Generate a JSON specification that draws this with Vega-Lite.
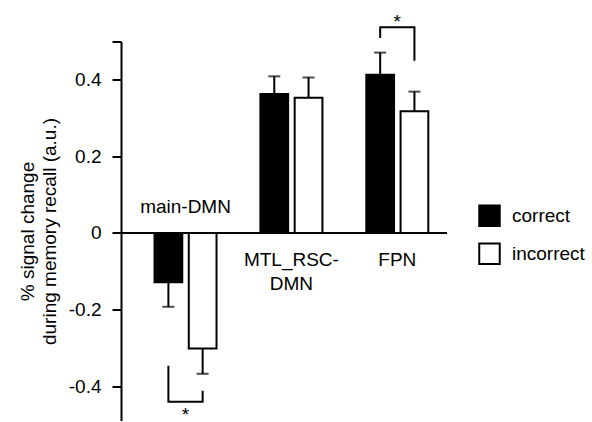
{
  "$schema": "https://vega.github.io/schema/vega-lite/v6.json",
  "autosize": "none",
  "width": 326,
  "height": 379,
  "padding": {"left": 121, "top": 41.5, "right": 145, "bottom": 1.5},
  "background": "white",
  "config": {
    "font": "Liberation Sans",
    "view": {"stroke": null},
    "axis": {"grid": false}
  },
  "datasets": {
    "bars": [
      {"group": "main-DMN", "cond": "correct", "value": -0.129, "hi": -0.193},
      {"group": "main-DMN", "cond": "incorrect", "value": -0.302, "hi": -0.368},
      {"group": "MTL_RSC-DMN", "cond": "correct", "value": 0.363, "hi": 0.409},
      {"group": "MTL_RSC-DMN", "cond": "incorrect", "value": 0.353, "hi": 0.406},
      {"group": "FPN", "cond": "correct", "value": 0.413, "hi": 0.471},
      {"group": "FPN", "cond": "incorrect", "value": 0.318, "hi": 0.369}
    ],
    "labels": [
      {"group": "main-DMN", "label": "main-DMN"},
      {"group": "MTL_RSC-DMN", "label": "MTL_RSC-\nDMN"},
      {"group": "FPN", "label": "FPN"}
    ],
    "brackets": [
      {"group": "main-DMN", "cond": "correct", "y": -0.347, "ord": 1},
      {"group": "main-DMN", "cond": "correct", "y": -0.441, "ord": 2},
      {"group": "main-DMN", "cond": "incorrect", "y": -0.441, "ord": 3},
      {"group": "main-DMN", "cond": "incorrect", "y": -0.412, "ord": 4},
      {"group": "FPN", "cond": "correct", "y": 0.509, "ord": 1},
      {"group": "FPN", "cond": "correct", "y": 0.5375, "ord": 2},
      {"group": "FPN", "cond": "incorrect", "y": 0.5375, "ord": 3},
      {"group": "FPN", "cond": "incorrect", "y": 0.45, "ord": 4}
    ],
    "stars": [
      {"group": "main-DMN", "y": -0.492, "text": "*"},
      {"group": "FPN", "y": 0.536, "text": "*"}
    ]
  },
  "layer": [
    {
      "data": {"name": "bars"},
      "mark": {"type": "bar", "stroke": "black", "strokeWidth": 2},
      "encoding": {
        "x": {"field": "group", "type": "nominal", "sort": ["main-DMN", "MTL_RSC-DMN", "FPN"], "axis": null,
              "scale": {"paddingInner": 0.4145, "paddingOuter": 0.2465, "align": 0.642}},
        "xOffset": {"field": "cond", "type": "nominal", "sort": ["correct", "incorrect"],
                    "scale": {"paddingInner": 0.19, "paddingOuter": 0}},
        "y": {"field": "value", "type": "quantitative",
              "scale": {"domain": [-0.49, 0.5], "nice": false, "zero": false},
              "axis": {
                "title": ["% signal change", "during memory recall (a.u.)"],
                "titleFontSize": 19, "titleFontWeight": "normal", "titleColor": "black",
                "titleLineHeight": 22, "titlePadding": 9,
                "values": [-0.4, -0.2, 0, 0.2, 0.4, 0.5],
                "labelExpr": "datum.value == 0.5 ? '' : (datum.value == 0 ? '0' : replace(format(datum.value, '.1f'), '\u2212', '-'))",
                "labelFontSize": 19, "labelColor": "black", "labelPadding": 11,
                "domainColor": "black", "domainWidth": 2,
                "tickColor": "black", "tickWidth": 2, "tickSize": 9
              }},
        "color": {"field": "cond", "type": "nominal",
                  "scale": {"domain": ["correct", "incorrect"], "range": ["#000000", "#ffffff"]},
                  "legend": {"title": null, "orient": "none", "legendX": 357, "legendY": 162.8,
                             "padding": 0, "symbolType": "square", "symbolSize": 420,
                             "symbolStrokeColor": "black", "symbolStrokeWidth": 2, "symbolOpacity": 1,
                             "labelFontSize": 19, "labelColor": "black", "labelOffset": 11,
                             "rowPadding": 9}}
      }
    },
    {
      "data": {"name": "bars"},
      "mark": {"type": "rule", "color": "black", "strokeWidth": 2},
      "encoding": {
        "x": {"field": "group", "type": "nominal", "sort": ["main-DMN", "MTL_RSC-DMN", "FPN"]},
        "xOffset": {"field": "cond", "type": "nominal", "sort": ["correct", "incorrect"]},
        "y": {"field": "value", "type": "quantitative"},
        "y2": {"field": "hi"}
      }
    },
    {
      "data": {"name": "bars"},
      "mark": {"type": "tick", "color": "black", "orient": "horizontal", "size": 12, "thickness": 2},
      "encoding": {
        "x": {"field": "group", "type": "nominal", "sort": ["main-DMN", "MTL_RSC-DMN", "FPN"]},
        "xOffset": {"field": "cond", "type": "nominal", "sort": ["correct", "incorrect"]},
        "y": {"field": "hi", "type": "quantitative"}
      }
    },
    {
      "data": {"values": [{"v": 0}]},
      "mark": {"type": "rule", "color": "black", "strokeWidth": 2},
      "encoding": {"y": {"field": "v", "type": "quantitative"}}
    },
    {
      "data": {"name": "brackets"},
      "mark": {"type": "line", "color": "black", "strokeWidth": 2, "strokeJoin": "miter", "strokeCap": "butt"},
      "encoding": {
        "x": {"field": "group", "type": "nominal", "sort": ["main-DMN", "MTL_RSC-DMN", "FPN"]},
        "xOffset": {"field": "cond", "type": "nominal", "sort": ["correct", "incorrect"]},
        "y": {"field": "y", "type": "quantitative"},
        "detail": {"field": "group"},
        "order": {"field": "ord", "type": "quantitative"}
      }
    },
    {
      "data": {"name": "stars"},
      "mark": {"type": "text", "fontSize": 19, "color": "black", "baseline": "alphabetic", "align": "center"},
      "encoding": {
        "x": {"field": "group", "type": "nominal", "sort": ["main-DMN", "MTL_RSC-DMN", "FPN"]},
        "y": {"field": "y", "type": "quantitative"},
        "text": {"field": "text"}
      }
    },
    {
      "data": {"name": "labels"},
      "transform": [{"filter": "datum.group == 'main-DMN'"}],
      "mark": {"type": "text", "fontSize": 19, "color": "black", "baseline": "alphabetic", "align": "center", "dy": -19.5},
      "encoding": {
        "x": {"field": "group", "type": "nominal", "sort": ["main-DMN", "MTL_RSC-DMN", "FPN"]},
        "y": {"datum": 0},
        "text": {"field": "label"}
      }
    },
    {
      "data": {"name": "labels"},
      "transform": [{"filter": "datum.group != 'main-DMN'"}],
      "mark": {"type": "text", "fontSize": 19, "color": "black", "baseline": "alphabetic", "align": "center", "dy": 33, "lineBreak": "\n", "lineHeight": 24},
      "encoding": {
        "x": {"field": "group", "type": "nominal", "sort": ["main-DMN", "MTL_RSC-DMN", "FPN"]},
        "y": {"datum": 0},
        "text": {"field": "label"}
      }
    }
  ]
}
